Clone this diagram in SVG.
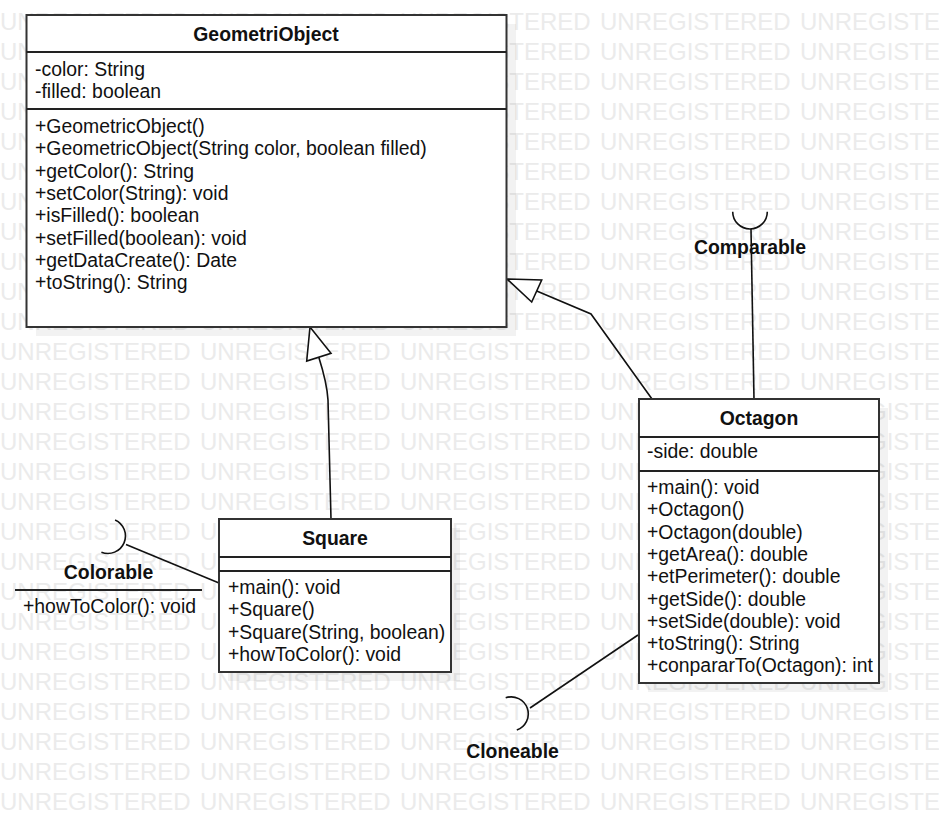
<svg xmlns="http://www.w3.org/2000/svg" xmlns:xlink="http://www.w3.org/1999/xlink" width="939" height="831" viewBox="0 0 939 831">
<style>
.wm{font-family:"Liberation Sans",Arial,sans-serif;font-size:24px;fill:#ebebeb}
.t{font-family:"Liberation Sans",Arial,sans-serif;font-size:19.4px;fill:#111}
.b{font-weight:bold}
.box{fill:#fff;stroke:#333;stroke-width:2}
.sh{fill:#000;fill-opacity:0.05}
.sep{stroke:#222;stroke-width:1.8}
.ln{fill:none;stroke:#111;stroke-width:1.6}
.tri{fill:#fff;stroke:#111;stroke-width:1.6;stroke-linejoin:miter}
</style>
<defs>
<text id="wmrow" class="wm"><tspan x="0">UNREGISTERED</tspan><tspan x="200">UNREGISTERED</tspan><tspan x="400">UNREGISTERED</tspan><tspan x="600">UNREGISTERED</tspan><tspan x="800">UNREGISTE</tspan></text>
</defs>
<rect width="939" height="831" fill="#fff"/>
<g id="watermark">
<use xlink:href="#wmrow" y="30"/><use xlink:href="#wmrow" y="60"/><use xlink:href="#wmrow" y="90"/><use xlink:href="#wmrow" y="120"/><use xlink:href="#wmrow" y="150"/><use xlink:href="#wmrow" y="180"/><use xlink:href="#wmrow" y="210"/><use xlink:href="#wmrow" y="240"/><use xlink:href="#wmrow" y="270"/><use xlink:href="#wmrow" y="300"/><use xlink:href="#wmrow" y="330"/><use xlink:href="#wmrow" y="360"/><use xlink:href="#wmrow" y="390"/><use xlink:href="#wmrow" y="420"/><use xlink:href="#wmrow" y="450"/><use xlink:href="#wmrow" y="480"/><use xlink:href="#wmrow" y="510"/><use xlink:href="#wmrow" y="540"/><use xlink:href="#wmrow" y="570"/><use xlink:href="#wmrow" y="600"/><use xlink:href="#wmrow" y="630"/><use xlink:href="#wmrow" y="660"/><use xlink:href="#wmrow" y="690"/><use xlink:href="#wmrow" y="720"/><use xlink:href="#wmrow" y="750"/><use xlink:href="#wmrow" y="780"/><use xlink:href="#wmrow" y="810"/>
</g>
<g id="shadows">
<rect class="sh" x="36" y="24" width="480" height="312"/>
<rect class="sh" x="228" y="528" width="232" height="153"/>
<rect class="sh" x="648" y="408" width="240" height="284"/>
</g>
<g id="connectors">
<path class="ln" d="M536.7,291 L591,314 L652,399"/>
<polygon class="tri" points="507,279 541.7,280 531.7,302"/>
<path class="ln" d="M318.8,357.2 Q327,383 328,400 L331,519"/>
<polygon class="tri" points="310,327 306.7,361 331,353.3"/>
<path class="ln" d="M754,399 L751,229"/>
<path class="ln" d="M219,583 L126,544.5"/>
<path class="ln" d="M638,635 L530,708"/>
</g>
<g id="GeometriObject">
<rect class="box" x="26.5" y="15" width="480" height="312"/>
<line class="sep" x1="26.5" y1="52" x2="506.5" y2="52"/>
<line class="sep" x1="26.5" y1="109" x2="506.5" y2="109"/>
<text class="t b" x="266" y="41" text-anchor="middle">GeometriObject</text>
<text class="t" x="35" y="76">-color: String</text>
<text class="t" x="35" y="98">-filled: boolean</text>
<text class="t" x="35" y="133">+GeometricObject()</text>
<text class="t" x="35" y="155.3">+GeometricObject(String color, boolean filled)</text>
<text class="t" x="35" y="177.6">+getColor(): String</text>
<text class="t" x="35" y="199.9">+setColor(String): void</text>
<text class="t" x="35" y="222.2">+isFilled(): boolean</text>
<text class="t" x="35" y="244.5">+setFilled(boolean): void</text>
<text class="t" x="35" y="266.8">+getDataCreate(): Date</text>
<text class="t" x="35" y="289.1">+toString(): String</text>
</g>
<g id="Square">
<rect class="box" x="219" y="519" width="232" height="153"/>
<line class="sep" x1="219" y1="557" x2="451" y2="557"/>
<line class="sep" x1="219" y1="571" x2="451" y2="571"/>
<text class="t b" x="335" y="545" text-anchor="middle">Square</text>
<text class="t" x="228" y="594">+main(): void</text>
<text class="t" x="228" y="616.3">+Square()</text>
<text class="t" x="228" y="638.6">+Square(String, boolean)</text>
<text class="t" x="228" y="661">+howToColor(): void</text>
</g>
<g id="Octagon">
<rect class="box" x="639" y="399" width="240" height="284"/>
<line class="sep" x1="639" y1="437" x2="879" y2="437"/>
<line class="sep" x1="639" y1="471" x2="879" y2="471"/>
<text class="t b" x="759" y="425" text-anchor="middle">Octagon</text>
<text class="t" x="647" y="458">-side: double</text>
<text class="t" x="647" y="494">+main(): void</text>
<text class="t" x="647" y="516.3">+Octagon()</text>
<text class="t" x="647" y="538.6">+Octagon(double)</text>
<text class="t" x="647" y="560.9">+getArea(): double</text>
<text class="t" x="647" y="583.2">+etPerimeter(): double</text>
<text class="t" x="647" y="605.5">+getSide(): double</text>
<text class="t" x="647" y="627.8">+setSide(double): void</text>
<text class="t" x="647" y="650.1">+toString(): String</text>
<text class="t" x="647" y="672.4">+conpararTo(Octagon): int</text>
</g>
<g id="Colorable">
<path class="ln" d="M115.1,520 A17.5,17.5 0 0 1 101.4,552.2"/>
<text class="t b" x="108.5" y="579" text-anchor="middle">Colorable</text>
<line class="sep" x1="15" y1="590" x2="202" y2="590"/>
<text class="t" x="23" y="613">+howToColor(): void</text>
</g>
<g id="Comparable">
<path class="ln" d="M732.7,211.7 A17.3,17.3 0 0 0 767.3,211.7"/>
<text class="t b" x="750" y="254" text-anchor="middle">Comparable</text>
</g>
<g id="Cloneable">
<path class="ln" d="M505.7,697.8 A17,17 0 0 1 516.8,730"/>
<text class="t b" x="512.5" y="758" text-anchor="middle">Cloneable</text>
</g>
</svg>
